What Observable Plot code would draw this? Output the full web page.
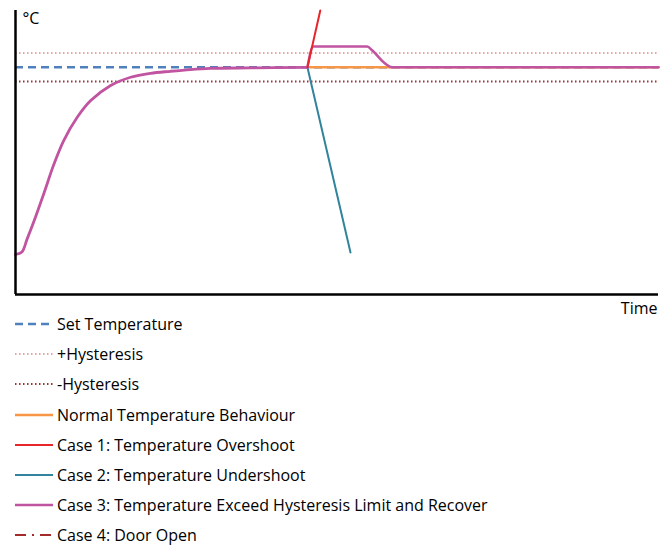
<!DOCTYPE html>
<html>
<head>
<meta charset="utf-8">
<script src="https://cdn.jsdelivr.net/npm/d3@7"></script>
<script src="https://cdn.jsdelivr.net/npm/@observablehq/plot@0.6"></script>
<style>
  html, body { margin: 0; padding: 0; background: #fff; }
  body { width: 670px; height: 545px; overflow: hidden; font-family: "Open Sans", sans-serif; position: relative; }
  #chart svg { display: block; }
  #legend { position: absolute; left: 15px; top: 309px; }
  .item { display: flex; align-items: center; height: 30.2px; font-size: 16px; color: #000; }
  .item svg { margin-right: 4px; }
</style>
</head>
<body>
<div id="chart"></div>
<div id="legend"></div>
<script>
// ---- data (time units 0..100, temperature units 0..100) ----
const setTemp = 80;
const hystPlus = 85;
const hystMinus = 75;

const warmupT = [0, 1.0, 1.8, 3.1, 4.4, 6.0, 7.5, 9.6, 11.7, 14.8, 17.9, 21.0, 24.1, 27.2, 30.3, 36.5, 45.4];
const warmupV = [14.1, 15.0, 19.5, 27.2, 35.5, 46.0, 54.2, 62.4, 68.3, 73.6, 76.5, 77.9, 78.6, 79.2, 79.6, 79.8, 80];

const normalT = [45.4, 100];
const normalV = [80, 80];

const case1T = [45.4, 47.4];
const case1V = [80, 100];

const case2T = [45.4, 52.1];
const case2V = [80, 14.8];

const case3T = [45.4, 46.3, 54.7, 55.5, 57.5, 58.6, 100];
const case3V = [80, 87.3, 87.3, 85.9, 81.3, 80, 80];

const legendLabels = [
  "Set Temperature",
  "+Hysteresis",
  "-Hysteresis",
  "Normal Temperature Behaviour",
  "Case 1: Temperature Overshoot",
  "Case 2: Temperature Undershoot",
  "Case 3: Temperature Exceed Hysteresis Limit and Recover",
  "Case 4: Door Open"
];

// ---- styles ----
const styles = [
  {stroke: "#4f81bd", width: 2.5, dash: "8,5"},
  {stroke: "#e8a3a3", width: 2, dash: "1.5,2.5"},
  {stroke: "#993333", width: 2, dash: "1.5,2.5"},
  {stroke: "#f79646", width: 2.5, dash: null},
  {stroke: "#e8262a", width: 2, dash: null},
  {stroke: "#31849b", width: 2, dash: null},
  {stroke: "#c154a0", width: 2.5, dash: null},
  {stroke: "#a52a2a", width: 2, dash: "11,6,2,6"}
];

const zip = (ts, vs) => ts.map((t, i) => ({t, v: vs[i]}));

const chart = Plot.plot({
  width: 670,
  height: 318,
  marginLeft: 15,
  marginRight: 12,
  marginTop: 10,
  marginBottom: 24,
  x: {domain: [0, 100], axis: null},
  y: {domain: [0, 100], axis: null},
  style: {fontFamily: "Open Sans, sans-serif", background: "#fff"},
  marks: [
    Plot.ruleY([hystPlus], {stroke: styles[1].stroke, strokeWidth: styles[1].width, strokeDasharray: styles[1].dash}),
    Plot.ruleY([hystMinus], {stroke: styles[2].stroke, strokeWidth: styles[2].width, strokeDasharray: styles[2].dash}),
    Plot.ruleY([setTemp], {x1: 0, x2: 100, stroke: styles[0].stroke, strokeWidth: styles[0].width, strokeDasharray: styles[0].dash}),
    Plot.line(zip(normalT, normalV), {x: "t", y: "v", stroke: styles[3].stroke, strokeWidth: styles[3].width}),
    Plot.line(zip(case2T, case2V), {x: "t", y: "v", stroke: styles[5].stroke, strokeWidth: styles[5].width}),
    Plot.line(zip(warmupT, warmupV), {x: "t", y: "v", stroke: styles[6].stroke, strokeWidth: 2.8, curve: "catmull-rom"}),
    Plot.line(zip(case3T, case3V), {x: "t", y: "v", stroke: styles[6].stroke, strokeWidth: styles[6].width, curve: "monotone-x"}),
    Plot.line(zip(case1T, case1V), {x: "t", y: "v", stroke: styles[4].stroke, strokeWidth: styles[4].width}),
    Plot.ruleX([0], {stroke: "#000", strokeWidth: 2.5}),
    Plot.ruleY([0], {stroke: "#000", strokeWidth: 2.5}),
    Plot.text(["°C"], {frameAnchor: "top-left", dx: 7, dy: 2, fontSize: 16, fill: "#000"}),
    Plot.text(["Time"], {frameAnchor: "bottom-right", dy: 19, dx: -1, fontSize: 16, fill: "#000", textAnchor: "end"})
  ]
});
document.getElementById("chart").appendChild(chart);

// ---- legend ----
const legend = document.getElementById("legend");
legendLabels.forEach((label, i) => {
  const s = styles[i];
  const div = document.createElement("div");
  div.className = "item";
  const svg = d3.create("svg").attr("width", 38).attr("height", 10);
  svg.append("line").attr("x1", 0).attr("x2", 38).attr("y1", 5).attr("y2", 5)
    .attr("stroke", s.stroke).attr("stroke-width", s.width)
    .attr("stroke-dasharray", s.dash);
  div.appendChild(svg.node());
  const span = document.createElement("span");
  span.textContent = label;
  div.appendChild(span);
  legend.appendChild(div);
});
</script>
</body>
</html>
